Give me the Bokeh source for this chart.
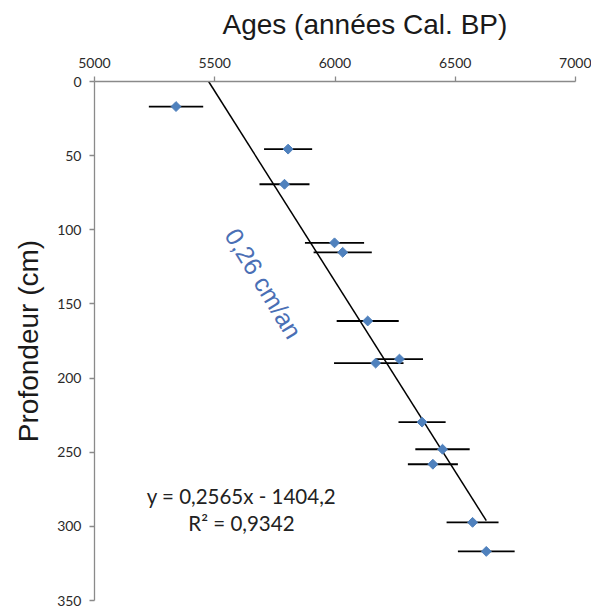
import math
from bokeh.plotting import figure
from bokeh.models import Range1d, ColumnDataSource, Title, FixedTicker, Label
from bokeh.embed import file_html
from bokeh.resources import INLINE

# ---- data ----
ages = [5339, 5805, 5790, 5998, 6032, 6136, 6268, 6169, 6362, 6447, 6407, 6572, 6629]
depths = [16.9, 45.6, 69.3, 108.8, 115.2, 161.5, 187.2, 189.9, 229.7, 248.0, 258.1, 297.3, 316.9]
err_minus = [113, 100, 104, 123, 121, 129, 98, 173, 98, 113, 104, 108, 118]
err_plus = [113, 100, 104, 123, 121, 129, 98, 116, 98, 113, 104, 108, 118]
slope = 0.2565
intercept = -1404.2
r2 = 0.9342
x_ticks = [5000, 5500, 6000, 6500, 7000]
y_ticks = [0, 50, 100, 150, 200, 250, 300, 350]
rate_label = "0,26 cm/an"
eq_label = "y = 0,2565x - 1404,2"
r2_label = "R² = 0,9342"
x_title = "Ages (années Cal. BP)"
y_title = "Profondeur (cm)"

src = ColumnDataSource(dict(
    age=ages, depth=depths,
    lo=[a - e for a, e in zip(ages, err_minus)],
    hi=[a + e for a, e in zip(ages, err_plus)],
))

p = figure(width=591, height=607, output_backend="svg", toolbar_location=None,
           x_range=Range1d(5000, 7000), y_range=Range1d(350, 0),
           x_axis_location="above",
           min_border_left=94, min_border_right=16, min_border_top=81, min_border_bottom=7)
p.outline_line_color = None
p.xgrid.visible = False
p.ygrid.visible = False
p.background_fill_color = "white"
p.border_fill_color = "white"

for ax, ticks in ((p.xaxis[0], x_ticks), (p.yaxis[0], y_ticks)):
    ax.ticker = FixedTicker(ticks=ticks)
    ax.axis_line_color = "#8a8a8a"
    ax.axis_line_width = 1.3
    ax.major_tick_line_color = "#8a8a8a"
    ax.major_tick_line_width = 1.3
    ax.major_tick_out = 5
    ax.major_tick_in = 0
    ax.minor_tick_line_color = None
    ax.major_label_text_font = "Lato"
    ax.major_label_text_font_size = "14px"
    ax.major_label_text_color = "#2a2a2a"

p.xaxis[0].major_label_standoff = 9
# small invisible spacer label to lift the title a little
p.xaxis[0].axis_label = " "
p.xaxis[0].axis_label_text_font_size = "5px"
p.xaxis[0].axis_label_standoff = 0

p.yaxis[0].major_label_standoff = 8
p.yaxis[0].axis_label = y_title
p.yaxis[0].axis_label_text_font = "Liberation Sans"
p.yaxis[0].axis_label_text_font_size = "28px"
p.yaxis[0].axis_label_text_font_style = "normal"
p.yaxis[0].axis_label_text_color = "#1a1a1a"
p.yaxis[0].axis_label_standoff = 10

p.add_layout(Title(text=x_title, align="left", offset=128, text_font="Liberation Sans",
                   text_font_size="28px", text_font_style="normal", text_color="#1a1a1a",
                   standoff=12), "above")

# error bars
p.segment(x0="lo", y0="depth", x1="hi", y1="depth", source=src, line_color="black", line_width=1.8)

# trend line: from depth 0 to the largest age
x_start = -intercept / slope
x_end = max(ages)
p.line([x_start, x_end], [slope * x_start + intercept, slope * x_end + intercept],
       line_color="black", line_width=1.5)

# points
p.scatter(x="age", y="depth", source=src, marker="square", size=7, angle=math.pi / 4,
          fill_color="#4f81bd", line_color="#4f81bd")

p.add_layout(Label(x=5703, y=136.2, text=rate_label, angle=-58.7, angle_units="deg",
                   text_align="center", text_baseline="middle", text_color="#4a6fb5",
                   text_font="Liberation Sans", text_font_size="25px"))
p.add_layout(Label(x=5611, y=279.8, text=eq_label, text_align="center", text_baseline="middle",
                   text_color="#222222", text_font="Lato", text_font_size="20.5px"))
p.add_layout(Label(x=5611, y=297.4, text=r2_label, text_align="center", text_baseline="middle",
                   text_color="#222222", text_font="Lato", text_font_size="20.5px"))

open("out.html", "w").write(file_html(p, INLINE))
